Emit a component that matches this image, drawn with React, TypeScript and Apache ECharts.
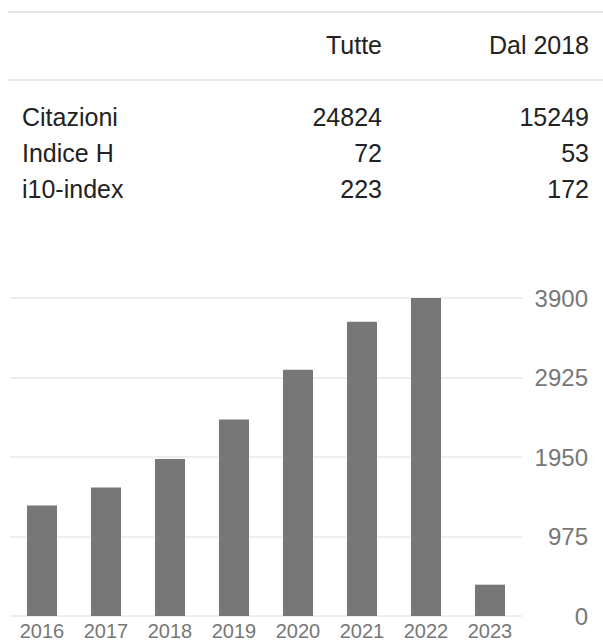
import React, { useEffect, useRef } from "react";
import * as echarts from "echarts";

const years = ["2016", "2017", "2018", "2019", "2020", "2021", "2022", "2023"];
const citations = [1356, 1577, 1925, 2410, 3020, 3610, 3900, 384];
const yTicks = [0, 975, 1950, 2925, 3900];

const headerCols = ["Tutte", "Dal 2018"];
const rowLabels = ["Citazioni", "Indice H", "i10-index"];
const allValues = ["24824", "72", "223"];
const since2018Values = ["15249", "53", "172"];

const FONT = "Arial, 'Liberation Sans', sans-serif";

export default function App() {
  const ref = useRef<HTMLDivElement>(null);
  useEffect(() => {
    if (!ref.current) return;
    const chart = echarts.init(ref.current, null, { renderer: "svg" });

    const textEl = (text: string, x: number, y: number, align: string, fill: string, size: number) => ({
      type: "text",
      x,
      y,
      style: {
        text,
        fill,
        font: `${size}px ${FONT}`,
        align,
        verticalAlign: "middle",
        textAlign: align,
        textVerticalAlign: "middle",
      },
    });

    const graphics: any[] = [
      { type: "rect", shape: { x: 8, y: 11, width: 595, height: 2 }, style: { fill: "#e8e8e8" } },
      { type: "rect", shape: { x: 8, y: 79, width: 595, height: 2 }, style: { fill: "#e8e8e8" } },
      textEl(headerCols[0], 382, 45, "right", "#222", 25),
      textEl(headerCols[1], 589, 45, "right", "#222", 25),
    ];
    const rowY = [117, 153, 189];
    rowLabels.forEach((lab, i) => {
      graphics.push(textEl(lab, 22, rowY[i], "left", "#222", 25));
      graphics.push(textEl(allValues[i], 382, rowY[i], "right", "#222", 25));
      graphics.push(textEl(since2018Values[i], 589, rowY[i], "right", "#222", 25));
    });

    chart.setOption({
      animation: false,
      graphic: graphics,
      grid: { left: 10, width: 512, top: 298, bottom: 23, containLabel: false },
      xAxis: {
        type: "category",
        data: years,
        boundaryGap: true,
        axisLine: { show: false },
        axisTick: { show: false },
        axisLabel: { color: "#777", fontSize: 20, fontFamily: FONT, margin: 5, interval: 0 },
      },
      yAxis: {
        type: "value",
        position: "right",
        min: yTicks[0],
        max: yTicks[yTicks.length - 1],
        interval: yTicks[1] - yTicks[0],
        axisLine: { show: false },
        axisTick: { show: false },
        axisLabel: {
          color: "#777",
          fontSize: 24,
          fontFamily: FONT,
          align: "right",
          margin: 66,
          formatter: (v: number) => String(v),
        },
        splitLine: { show: true, lineStyle: { color: "#eee", width: 2 } },
      },
      series: [
        {
          type: "bar",
          data: citations,
          barWidth: 30,
          itemStyle: { color: "#777" },
        },
      ],
    });
    return () => chart.dispose();
  }, []);
  return (
    <div
      ref={ref}
      style={{ position: "absolute", left: 0, top: 0, width: 603, height: 641, background: "#fff" }}
    />
  );
}
